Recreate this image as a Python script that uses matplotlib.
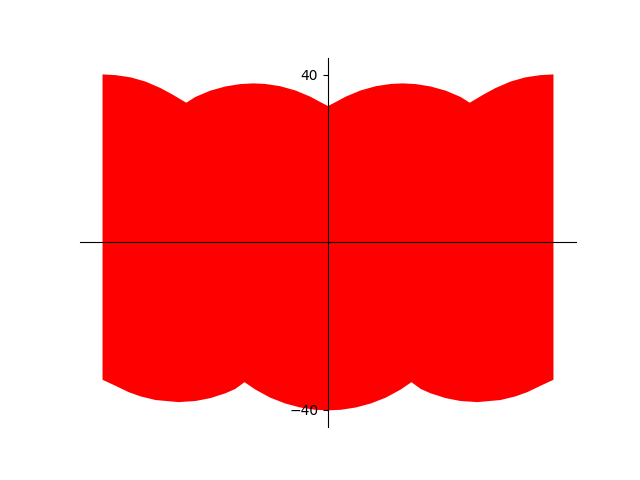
import numpy as np
import matplotlib
matplotlib.use("Agg")
import matplotlib.pyplot as plt

# Upper boundary (left half, x from edge to centre)
top_x = [-10.02, -9.44, -8.77, -8.11, -7.44, -6.91, -6.30, -5.90, -5.23, -4.56,
         -3.90, -3.32, -2.79, -2.13, -1.46, -0.80, -0.35, 0.0]
top_y = [40.07, 39.90, 39.36, 38.36, 36.80, 35.26, 33.31, 34.67, 36.19, 37.19,
         37.76, 37.93, 37.79, 37.26, 36.26, 34.79, 33.50, 32.52]

# Lower boundary (left half, x from edge to centre)
bot_x = [-10.02, -9.44, -8.86, -8.33, -7.66, -6.64, -5.89, -5.23, -4.56, -4.12,
         -3.71, -3.23, -2.57, -1.90, -1.24, -0.58, 0.0]
bot_y = [-32.79, -34.24, -35.74, -36.76, -37.63, -38.12, -37.86, -37.17, -36.02, -34.98,
         -33.36, -35.12, -37.05, -38.45, -39.40, -39.95, -40.10]

yticks = [-40, 40]

# full outline using mirror symmetry about x = 0
tx = np.array(top_x); ty = np.array(top_y)
bx = np.array(bot_x); by = np.array(bot_y)
top_full_x = np.concatenate([tx, -tx[::-1][1:]])
top_full_y = np.concatenate([ty, ty[::-1][1:]])
bot_full_x = np.concatenate([bx, -bx[::-1][1:]])
bot_full_y = np.concatenate([by, by[::-1][1:]])

poly_x = np.concatenate([top_full_x, bot_full_x[::-1]])
poly_y = np.concatenate([top_full_y, bot_full_y[::-1]])

fig, ax = plt.subplots(figsize=(6.4, 4.8), dpi=100)
ax.fill(poly_x, poly_y, color='red', linewidth=0)

ax.spines['left'].set_position('zero')
ax.spines['bottom'].set_position('zero')
ax.spines['right'].set_visible(False)
ax.spines['top'].set_visible(False)
ax.set_xticks([])
ax.set_yticks(yticks)

fig.savefig("out.png", dpi=100)
